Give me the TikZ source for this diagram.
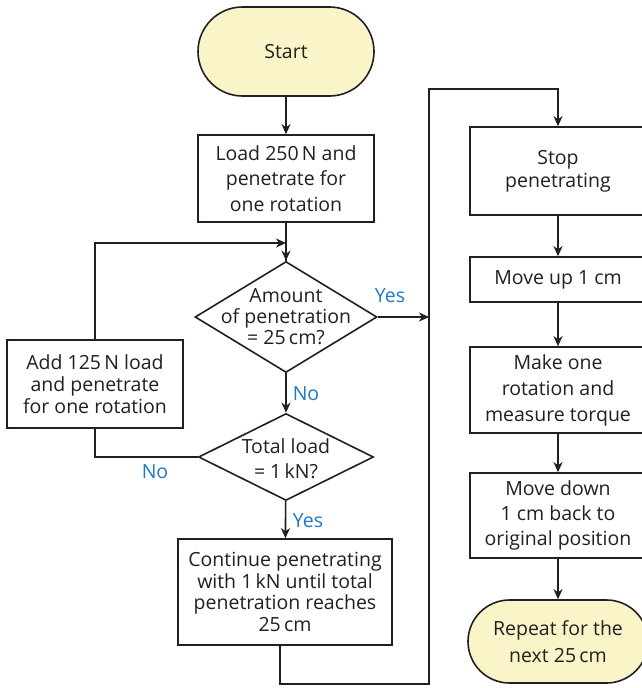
\documentclass[tikz,border=0pt]{standalone}
\usepackage{fontspec}
\setmainfont{Open Sans}
\usetikzlibrary{shapes.geometric,shapes.misc,arrows.meta}
\definecolor{termfill}{HTML}{FAF5C8}
\definecolor{lblblue}{HTML}{1F7AC3}
\definecolor{ink}{HTML}{231F20}
\begin{document}
\begin{tikzpicture}[x=1pt,y=-1pt,
  every node/.style={font=\fontsize{19.5}{22}\selectfont, text=ink, inner sep=0pt},
  box/.style={draw=ink, line width=1.6pt, rectangle, align=center, fill=white},
  termbox/.style={draw=ink, line width=1.6pt, rounded rectangle, align=center, fill=termfill},
  dia/.style={draw=ink, line width=1.6pt, diamond, inner sep=0pt},
  dtext/.style={align=center, font=\fontsize{19.5}{21}\selectfont},
  lbl/.style={text=lblblue},
  arr/.style={draw=ink, line width=1.6pt, -{Stealth[length=10pt,width=9pt,inset=3pt]}},
  ln/.style={draw=ink, line width=1.6pt}]
\useasboundingbox (0,0) rectangle (642,688);
\fill[white] (0,0) rectangle (642,688);
\clip (0,0) rectangle (642,688);

% left column
\node[termbox, minimum width=176pt, minimum height=89pt] (start) at (286,51.5) {Start};
\node[box, minimum width=176pt, minimum height=87pt, font=\fontsize{19.5}{25.5}\selectfont] (load) at (286,178.5) {Load 250\,N and\\penetrate for\\one rotation};
\node[dia, minimum width=182pt, minimum height=111pt] (d1) at (286,317) {};
\node[dtext] (d1t) at (286,317) {Amount\\of penetration\\= 25\,cm?};
\node[dia, minimum width=175pt, minimum height=87pt] (d2) at (286,457) {};
\node[dtext, font=\fontsize{19.5}{25}\selectfont] (d2t) at (286,459) {Total load\\= 1\,kN?};
\node[box, minimum width=176pt, minimum height=88pt, font=\fontsize{19.5}{22}\selectfont] (add) at (95,384) {Add 125\,N load\\and penetrate\\for one rotation};
\node[box, minimum width=214pt, minimum height=106pt, font=\fontsize{19.5}{21.5}\selectfont] (cont) at (285,592) {Continue penetrating\\with 1\,kN until total\\penetration reaches\\25\,cm};

% right column
\node[box, minimum width=176pt, minimum height=88pt, font=\fontsize{19.5}{23}\selectfont] (stop) at (558,171) {Stop\\penetrating};
\node[box, minimum width=176pt, minimum height=45pt] (up) at (558,279.5) {Move up 1 cm};
\node[box, minimum width=176pt, minimum height=86pt, font=\fontsize{19.5}{26}\selectfont] (make) at (558,390) {Make one\\rotation and\\measure torque};
\node[box, minimum width=176pt, minimum height=85pt, font=\fontsize{19.5}{25}\selectfont] (down) at (558,515.5) {Move down\\1 cm back to\\original position};
\node[termbox, minimum width=180pt, minimum height=83pt, font=\fontsize{19.5}{27}\selectfont] (rep) at (558,641.5) {Repeat for the\\next 25\,cm};

% labels
\node[lbl] (yes1) at (390,296) {Yes};
\node[lbl] (no1) at (306,394) {No};
\node[lbl] (no2) at (155,472) {No};
\node[lbl] (yes2) at (308,521) {Yes};

% junction coordinates
\coordinate (j1) at (286,243);
\coordinate (vtop) at (429,89);
\coordinate (vmid) at (429,317);
\coordinate (vbot) at (429,684);
\coordinate (cbot) at (280,684);

% connectors
\draw[arr] (start) -- (load);
\draw[ln] (load) -- (d1);
\draw[arr] (add.north) |- (j1);
\draw[arr] (j1) -- (d1.north);
\draw[arr] (d1) -- (d2);
\draw[arr] (d2) -- (cont);
\draw[ln] (add.south) |- (d2.west);
\draw[arr] (d1.east) -- (vmid);
\draw[arr] (cont.south -| cbot) -- (cbot) -- (vbot) -- (vtop) -| (stop.north);
\draw[arr] (stop) -- (up);
\draw[arr] (up) -- (make);
\draw[arr] (make) -- (down);
\draw[arr] (down) -- (rep);
\end{tikzpicture}
\end{document}
